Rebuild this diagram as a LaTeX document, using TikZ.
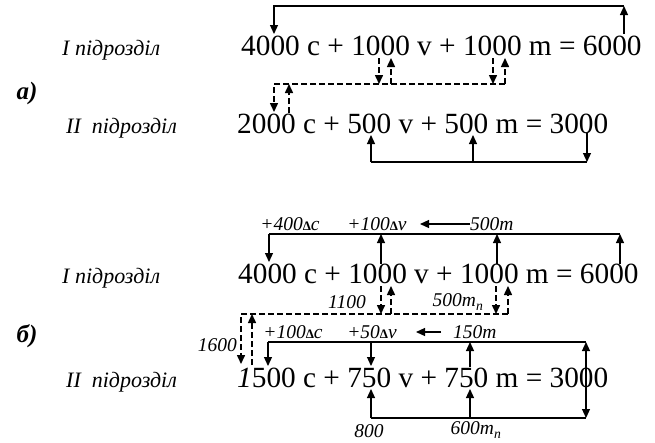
\documentclass[tikz,border=0pt]{standalone}
\usepackage{fontspec}
\setmainfont{Liberation Serif}
\usepackage{tikz}
\usetikzlibrary{arrows.meta}

\newcommand{\dlt}{{\fontsize{13}{13}\selectfont\upshape\bfseries Δ}}

\begin{document}
\begin{tikzpicture}[x=1pt, y=-1pt,
    eq/.style={font=\fontsize{29.3}{30}\selectfont, inner sep=0pt, anchor=base west},
    part/.style={font=\fontsize{22}{24}\selectfont\itshape, inner sep=0pt, anchor=base west},
    item/.style={font=\fontsize{25}{26}\selectfont\bfseries\itshape, inner sep=0pt},
    lbl/.style={font=\fontsize{19.5}{21}\selectfont\itshape, inner sep=0pt},
    link/.style={line width=1.2pt},
    flow/.style={link, -{Triangle[length=9pt,width=8pt]}},
    dlink/.style={line width=1.5pt, dash pattern=on 6pt off 3pt},
    dflow/.style={dlink, -{Triangle[length=9pt,width=8pt]}}]

    % поле рисунка
    \useasboundingbox (0,0) rectangle (655,442);

    % ---------------- а) ----------------
    \node[item] (ta) at (27,93) {а)};
    \node[part] (pa1) at (62,55) {I підрозділ};
    \node[part] (pa2) at (66,133) {II\ \ підрозділ};
    \node[eq] (eqa1) at (241,55) {4000 c + 1000 v + 1000 m = 6000};
    \node[eq] (eqa2) at (237,133) {2000 c + 500 v + 500 m = 3000};

    % уровни линий
    \coordinate (aTop) at (0,6);
    \coordinate (aMid) at (0,84);
    \coordinate (aBot) at (0,162);

    % верхняя связь
    \coordinate (a4000) at (274,34);
    \coordinate (a6000) at (624,34);
    \draw[flow] (a6000) -- (a6000 |- aTop);
    \draw[flow] (a6000 |- aTop) -- (a4000 |- aTop) -- (a4000);

    % обмен между подразделениями
    \coordinate (av1) at (379,58);
    \coordinate (av2) at (391,58);
    \coordinate (am1) at (493,58);
    \coordinate (am2) at (505,58);
    \coordinate (ac1) at (274,112);
    \coordinate (ac2) at (289,113);
    \draw[dflow] (av1) -- (av1 |- aMid);
    \draw[dflow] (am1) -- (am1 |- aMid);
    \draw[dflow] (am2 |- aMid) -- (ac1 |- aMid) -- (ac1);
    \draw[dflow] (ac2) -- (ac2 |- aMid);
    \draw[dflow] (av2 |- aMid) -- (av2);
    \draw[dflow] (am2 |- aMid) -- (am2);

    % нижняя связь
    \coordinate (a500v) at (371,135);
    \coordinate (a500m) at (473,135);
    \coordinate (a3000) at (587,133);
    \draw[link] (a500v |- aBot) -- (a3000 |- aBot);
    \draw[flow] (a500v |- aBot) -- (a500v);
    \draw[flow] (a500m |- aBot) -- (a500m);
    \draw[flow] (a3000) -- (a3000 |- aBot);

    % ---------------- б) ----------------
    \node[item] (tb) at (27,336) {б)};
    \node[part] (pb1) at (62,283) {I підрозділ};
    \node[part] (pb2) at (66,387) {II\ \ підрозділ};
    \node[eq] (eqb1) at (238,283) {4000 c + 1000 v + 1000 m = 6000};
    \node[eq] (eqb2) at (237,387) {\textit{1}500 c + 750 v + 750 m = 3000};

    % уровни линий
    \coordinate (bTop) at (0,234);
    \coordinate (bMid) at (0,314);
    \coordinate (bUp) at (0,342);
    \coordinate (bBot) at (0,418);

    % подписи
    \node[lbl] (l400) at (290,224) {+400\dlt c};
    \node[lbl] (l100v) at (377,224) {+100\dlt v};
    \node[lbl, anchor=west] (l500) at (470,224) {500m};
    \coordinate (bArrA) at (420,224);
    \draw[flow] (l500.west) -- (bArrA);
    \node[lbl] (l1100) at (347,302) {1100};
    \node[lbl] (l500n) at (458,302) {500m\textsubscript{n}};
    \node[lbl, anchor=east] (l1600) at (237,345) {1600};
    \node[lbl] (l100c) at (293,332) {+100\dlt c};
    \node[lbl] (l50v) at (372,332) {+50\dlt v};
    \node[lbl, anchor=west] (l150) at (453,332) {150m};
    \coordinate (bArrS) at (441,332);
    \coordinate (bArrE) at (416,332);
    \draw[flow] (bArrS) -- (bArrE);
    \node[lbl] (l800) at (369,431) {800};
    \node[lbl] (l600n) at (476,430) {600m\textsubscript{n}};

    % верхняя связь
    \coordinate (b4000) at (269,262);
    \coordinate (b1000v) at (381,264);
    \coordinate (b1000m) at (497,264);
    \coordinate (b6000) at (620,264);
    \draw[link] (b4000 |- bTop) -- (b6000 |- bTop);
    \draw[flow] (b4000 |- bTop) -- (b4000);
    \draw[flow] (b1000v) -- (b1000v |- bTop);
    \draw[flow] (b1000m) -- (b1000m |- bTop);
    \draw[flow] (b6000) -- (b6000 |- bTop);

    % обмен между подразделениями
    \coordinate (bv1) at (381,286);
    \coordinate (bv2) at (391,286);
    \coordinate (bm1) at (496,286);
    \coordinate (bm2) at (508,286);
    \coordinate (bc1) at (241,364);
    \coordinate (bc2) at (252,365);
    \draw[dflow] (bv1) -- (bv1 |- bMid);
    \draw[dflow] (bm1) -- (bm1 |- bMid);
    \draw[dflow] (bm2 |- bMid) -- (bc1 |- bMid) -- (bc1);
    \draw[dflow] (bc2) -- (bc2 |- bMid);
    \draw[dflow] (bv2 |- bMid) -- (bv2);
    \draw[dflow] (bm2 |- bMid) -- (bm2);

    % связь внутри II подразделения
    \coordinate (b1500) at (268,366);
    \coordinate (b750v) at (371,366);
    \coordinate (b750m) at (470,367);
    \coordinate (b3000) at (586,377);
    \draw[link] (b1500 |- bUp) -- (b3000 |- bUp);
    \draw[flow] (b1500 |- bUp) -- (b1500);
    \draw[flow] (b750v |- bUp) -- (b750v);
    \draw[flow] (b750m) -- (b750m |- bUp);
    \draw[flow] (b3000) -- (b3000 |- bUp);

    % нижняя связь
    \coordinate (b750vB) at (371,389);
    \coordinate (b750mB) at (470,389);
    \draw[link] (b750vB |- bBot) -- (b3000 |- bBot);
    \draw[flow] (b750vB |- bBot) -- (b750vB);
    \draw[flow] (b750mB |- bBot) -- (b750mB);
    \draw[flow] (b3000) -- (b3000 |- bBot);
\end{tikzpicture}
\end{document}
